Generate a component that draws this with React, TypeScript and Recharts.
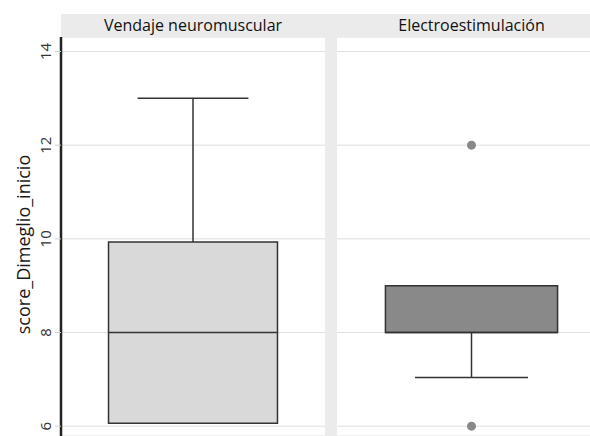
import React from 'react';
import { ComposedChart, XAxis, YAxis, CartesianGrid, ReferenceArea, ReferenceLine, Scatter, Label } from 'recharts';

const groups = ['Vendaje neuromuscular', 'Electroestimulación'];
const q1 = [6.06, 8];
const median = [8, 8];
const q3 = [9.93, 9];
const whiskerLow = [6.06, 7.04];
const whiskerHigh = [13, 9];
const outliers = [[], [12, 6]];
const boxFill = ['#d9d9d9', '#898989'];
const yTicks = [6, 8, 10, 12, 14];
const yDomain = [5.79, 14.31];

const FONT = '"Open Sans", sans-serif';
const CENTER = 0.5;
const BOX_HALF = 0.32;
const CAP_HALF = 0.21;
const EDGE = '#333333';

const RotTick = (props: any) => {
  const { x, y, payload } = props;
  const bx = x - 4;
  return (
    <text x={bx} y={y} transform={`rotate(-90 ${bx} ${y})`} textAnchor="middle" fontSize={15} fill="#333" fontFamily={FONT}>
      {payload.value}
    </text>
  );
};

const YTitle = (props: any) => {
  const vb = props.viewBox;
  const cx = 30;
  const cy = vb.y + vb.height / 2 + 8;
  return (
    <text x={cx} y={cy} transform={`rotate(-90 ${cx} ${cy})`} textAnchor="middle" fontSize={18} fill="#1a1a1a" fontFamily={FONT}>
      score_Dimeglio_inicio
    </text>
  );
};

const Panel = ({ i, width, axis }: { i: number; width: number; axis: boolean }) => {
  const pts = outliers[i].map((v) => ({ x: CENTER, y: v }));
  const base = [{ x: CENTER, y: median[i] }];
  const yw = axis ? 61 : 0;
  return (
    <ComposedChart width={width + yw} height={436} data={base} margin={{ top: 37, right: 0, bottom: 0, left: 0 }}>
      <CartesianGrid vertical={false} stroke="#dedede" strokeWidth={1} />
      <XAxis type="number" dataKey="x" domain={[0, 1]} allowDataOverflow hide />
      <YAxis
        type="number"
        dataKey="y"
        domain={yDomain}
        ticks={yTicks}
        allowDataOverflow
        hide={!axis}
        width={yw}
        tickSize={6}
        tickMargin={0}
        tick={<RotTick />}
        tickLine={{ stroke: '#cfcfcf' }}
        axisLine={{ stroke: '#222', strokeWidth: 2.5 }}
      >
        {axis && <Label content={<YTitle />} />}
      </YAxis>
      <ReferenceLine segment={[{ x: CENTER, y: q3[i] }, { x: CENTER, y: whiskerHigh[i] }]} stroke={EDGE} strokeWidth={1.5} />
      <ReferenceLine segment={[{ x: CENTER, y: whiskerLow[i] }, { x: CENTER, y: q1[i] }]} stroke={EDGE} strokeWidth={1.5} />
      {whiskerHigh[i] > q3[i] && (
        <ReferenceLine segment={[{ x: CENTER - CAP_HALF, y: whiskerHigh[i] }, { x: CENTER + CAP_HALF, y: whiskerHigh[i] }]} stroke={EDGE} strokeWidth={1.5} />
      )}
      {whiskerLow[i] < q1[i] && (
        <ReferenceLine segment={[{ x: CENTER - CAP_HALF, y: whiskerLow[i] }, { x: CENTER + CAP_HALF, y: whiskerLow[i] }]} stroke={EDGE} strokeWidth={1.5} />
      )}
      <ReferenceArea x1={CENTER - BOX_HALF} x2={CENTER + BOX_HALF} y1={q1[i]} y2={q3[i]} fill={boxFill[i]} fillOpacity={1} stroke={EDGE} strokeWidth={1.5} />
      <ReferenceLine segment={[{ x: CENTER - BOX_HALF, y: median[i] }, { x: CENTER + BOX_HALF, y: median[i] }]} stroke={EDGE} strokeWidth={1.5} />
      {pts.length > 0 && (
        <Scatter data={pts} fill="#888888" shape={(p: any) => <circle cx={p.cx} cy={p.cy} r={4.5} fill="#888888" />} isAnimationActive={false} />
      )}
    </ComposedChart>
  );
};

const stripStyle = (left: number, width: number): React.CSSProperties => ({
  position: 'absolute',
  left,
  top: 14,
  width,
  height: 23,
  background: '#ebebeb',
  textAlign: 'center',
  lineHeight: '23px',
  fontSize: 16,
  color: '#111',
  fontFamily: FONT,
});

export default function App() {
  return (
    <div style={{ position: 'absolute', left: 0, top: 0, width: 590, height: 436, overflow: 'hidden', background: '#fff' }}>
      <div style={{ position: 'absolute', left: 0, top: 0 }}>
        <Panel i={0} width={264} axis />
      </div>
      <div style={{ position: 'absolute', left: 337, top: 0 }}>
        <Panel i={1} width={269} axis={false} />
      </div>
      <div style={{ position: 'absolute', left: 325, top: 14, width: 12, height: 422, background: '#ebebeb' }} />
      <div style={stripStyle(61, 264)}>{groups[0]}</div>
      <div style={stripStyle(337, 269)}>{groups[1]}</div>
    </div>
  );
}
